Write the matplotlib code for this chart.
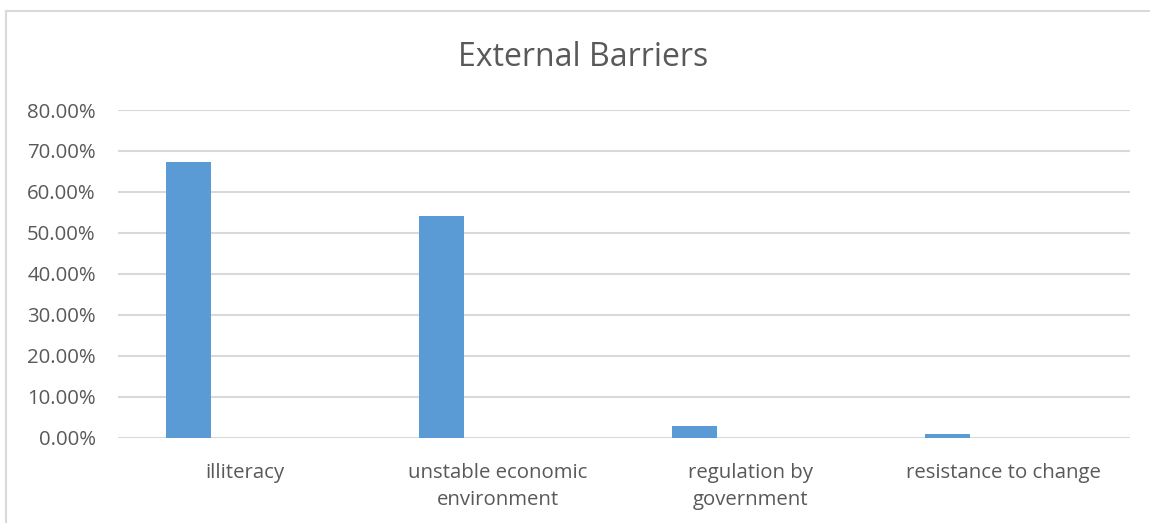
import matplotlib
matplotlib.use('Agg')
import matplotlib.pyplot as plt
from matplotlib.ticker import FuncFormatter
from matplotlib.lines import Line2D

categories = ['illiteracy', 'unstable economic\nenvironment', 'regulation by\ngovernment', 'resistance to change']
shares = [0.673, 0.541, 0.029, 0.009]
title = 'External Barriers'

plt.rcParams['font.family'] = ['Open Sans', 'DejaVu Sans']
text_color = '#595959'
grid_color = '#d9d9d9'

fig = plt.figure(figsize=(11.5, 5.23), dpi=100)
ax = fig.add_axes([118 / 1150, 1 - 437.7 / 523, 1012 / 1150, 327.7 / 523])

x_pos = [i - 0.2225 for i in range(len(categories))]
ax.bar(x_pos, shares, width=0.178, color='#5b9bd5', zorder=3)

ax.set_xlim(-0.5, len(categories) - 0.5)
ax.set_ylim(0, 0.8)
ax.set_yticks([i / 10 for i in range(9)])
ax.yaxis.set_major_formatter(FuncFormatter(lambda v, _: '%.2f%%' % (v * 100)))
ax.set_xticks(range(len(categories)))
ax.set_xticklabels(categories, linespacing=1.5)
ax.tick_params(axis='both', length=0, colors=text_color, labelsize=14.7)
ax.tick_params(axis='x', pad=18)
ax.tick_params(axis='y', pad=16)
ax.grid(axis='y', color=grid_color, linewidth=1.5, zorder=0)
for s in ax.spines.values():
    s.set_visible(False)

fig.text(0.507, 1 - 58 / 523, title, ha='center', va='center', fontsize=23, color=text_color)

# chart area frame (top and left edges)
fig.add_artist(Line2D([6 / 1150, 1], [1 - 11 / 523, 1 - 11 / 523], color=grid_color, linewidth=1.5))
fig.add_artist(Line2D([6 / 1150, 6 / 1150], [0, 1 - 11 / 523], color=grid_color, linewidth=1.5))

fig.savefig('out.png', dpi=100)
